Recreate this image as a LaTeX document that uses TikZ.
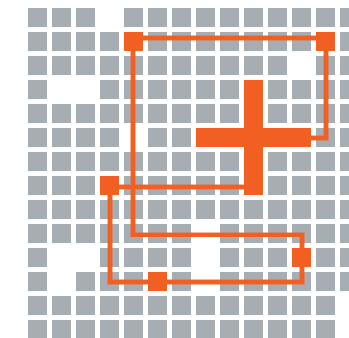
\documentclass[tikz,border=0pt]{standalone}
\definecolor{cellgray}{HTML}{A7AEB3}
\definecolor{accent}{HTML}{F25F22}
\tikzset{
  cell/.style={fill=cellgray, draw=none, minimum size=19pt, inner sep=0pt, outer sep=0pt},
  hotcell/.style={fill=accent, draw=none, minimum size=19pt, inner sep=0pt, outer sep=0pt},
  bar/.style={fill=accent, draw=none, inner sep=0pt, outer sep=0pt},
  wire/.style={draw=accent, line width=4pt, line join=miter},
  halo/.style={draw=accent, draw opacity=0.45, line width=5.6pt, line join=miter}
}
\begin{document}
\begin{tikzpicture}[x=1pt,y=-1pt]
\useasboundingbox (0,0) rectangle (349,338);
\clip (0,0) rectangle (349,338);
% grey grid
\foreach \i in {0,...,13}{
  \foreach \j in {0,...,13}{
    \def\skip{0}
    \foreach \a/\b in {3/0,11/2,1/3,2/3,4/5,7/9,1/10,2/10,7/10,1/11,7/11,13/12,13/13}{
      \ifnum\i=\a \ifnum\j=\b \global\def\skipflag{1}\fi\fi
    }
    \ifdefined\skipflag
      \global\let\skipflag\undefined
    \else
      \node[cell] (g-\i-\j) at ({37.5+24*\i},{17.5+24*\j}) {};
    \fi
  }
}
% wire corners
\coordinate (t1) at (133,38);
\coordinate (t2) at (326,38);
\coordinate (t3) at (326,138);
\coordinate (t4) at (309,138);
\coordinate (m1) at (255,187);
\coordinate (m2) at (110,187);
\coordinate (m3) at (110,282);
\coordinate (m4) at (302,282);
\coordinate (m5) at (302,234.5);
\coordinate (m6) at (133,234.5);
% halo under wires
\draw[halo] (t4) -- (t3) -- (t2) -- (t1);
\draw[halo] (m1) -- (m2) -- (m3) -- (m4) -- (m5) -- (m6) -- (t1);
% wires
\draw[wire] (t4) -- (t3) -- (t2) -- (t1);
\draw[wire] (m1) -- (m2) -- (m3) -- (m4) -- (m5) -- (m6) -- (t1);
% plus
\node[bar, minimum width=19pt, minimum height=115pt] (plusV) at (253.5,137.5) {};
\node[bar, minimum width=115pt, minimum height=19pt] (plusH) at (253.5,137.5) {};
% orange squares
\node[hotcell] (sqA) at (133.5,41.5) {};
\node[hotcell] (sqB) at (325.5,41.5) {};
\node[hotcell] (sqC) at (109.5,185.5) {};
\node[hotcell] (sqD) at (301.5,257.5) {};
\node[hotcell] (sqE) at (157.5,281.5) {};
\end{tikzpicture}
\end{document}
